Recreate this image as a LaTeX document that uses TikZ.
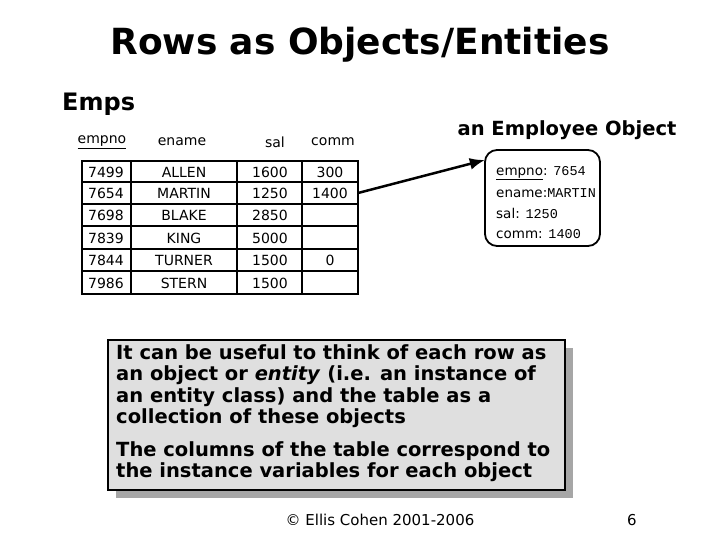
\documentclass[tikz,border=0pt]{standalone}
\usepackage{fontspec}
\setmainfont{DejaVu Sans}
\newfontfamily\cour{Liberation Mono}
\usetikzlibrary{arrows.meta}
\begin{document}
\begin{tikzpicture}[x=1pt,y=-1pt,
  cell/.style={font=\fontsize{14}{16}\selectfont},
  obj/.style={font=\fontsize{13.5}{16}\selectfont,anchor=west,inner sep=0}]
\useasboundingbox (0,0) rectangle (720,540);
\node (title) at (360,45) {\fontsize{36}{40}\selectfont\bfseries Rows as Objects/Entities};
\node[anchor=west,inner sep=0] (emps) at (62,104) {\fontsize{24}{28}\selectfont\bfseries Emps};
\foreach \t/\x in {ename/182,sal/275,comm/333} \node[cell] at (\x,142) {\t};
\node[cell] at (102,142) {\underline{empno}};
% table
\draw[line width=1.8pt] (82,161) rectangle (358,294);
\foreach \y in {182,204,226,249,271} \draw[line width=1.3pt] (82,\y) -- (358,\y);
\foreach \x in {131,237,302} \draw[line width=1.3pt] (\x,161) -- (\x,294);
\foreach \y/\a/\b/\c/\d in {172/7499/ALLEN/1600/300,193/7654/MARTIN/1250/1400,215/7698/BLAKE/2850/,238/7839/KING/5000/,260/7844/TURNER/1500/0,283/7986/STERN/1500/}{
  \node[cell] at (106,\y) {\a};
  \node[cell] at (184,\y) {\b};
  \node[cell] at (270,\y) {\c};
  \node[cell] at (330,\y) {\d};
}
\coordinate (rowend) at (358,193);
\node (objt) at (567,130) {\fontsize{19.5}{22}\selectfont\bfseries an Employee Object};
\draw[line width=1.8pt,rounded corners=12pt] (485,150) rectangle (600,246);
\node (box) at (542.5,198) [minimum width=115pt,minimum height=96pt] {};
\node[obj] at (496,173) {\underline{empno}: {\cour 7654}};
\node[obj] at (496,193) {ename:{\cour MARTIN}};
\node[obj] at (496,213) {sal: {\cour 1250}};
\node[obj] at (496,234) {comm: {\cour 1400}};
\draw[line width=2.5pt,-{Latex[length=15pt,width=12pt]}] (rowend) -- (box.north west|-0,160);
% text box
\fill[gray!70] (116,348) rectangle (573,498);
\draw[line width=2pt,fill=gray!25] (108,340) rectangle (565,490);
\node[anchor=north west,align=left,font=\fontsize{19.5}{21.5}\selectfont\bfseries,inner sep=0] at (116,344)
 {It can be useful to think of each row as\\an object or \textit{entity} (i.e. an instance of\\an entity class) and the table as a\\collection of these objects};
\node[anchor=north west,align=left,font=\fontsize{19.5}{21.5}\selectfont\bfseries,inner sep=0] at (116,441)
 {The columns of the table correspond to\\the instance variables for each object};
\node (foot) at (380,520) {\fontsize{15}{17}\selectfont © Ellis Cohen 2001-2006};
\node (pg) at (632,520) {\fontsize{15}{17}\selectfont 6};
\end{tikzpicture}
\end{document}
